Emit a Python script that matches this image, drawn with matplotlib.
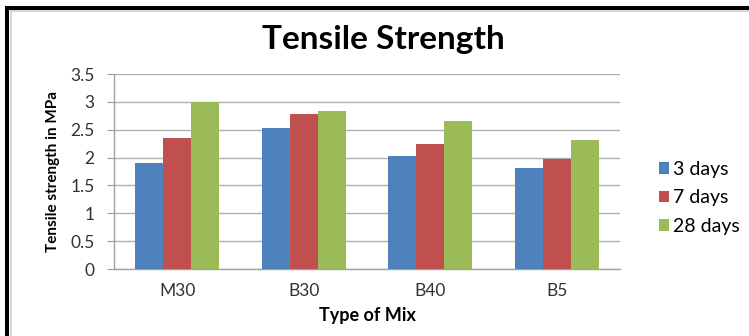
import matplotlib
matplotlib.use('Agg')
import matplotlib.pyplot as plt
import numpy as np
from matplotlib.patches import Rectangle

plt.rcParams['font.family'] = ['Lato', 'DejaVu Sans']

mixes = ['M30', 'B30', 'B40', 'B5']
days_3 = [1.91, 2.53, 2.02, 1.82]
days_7 = [2.36, 2.79, 2.25, 1.98]
days_28 = [3.00, 2.83, 2.65, 2.32]
series = ['3 days', '7 days', '28 days']
colors = ['#4F81BD', '#C0504D', '#9BBB59']

fig = plt.figure(figsize=(7.49, 3.36), dpi=100)
fig.patch.set_facecolor('white')

# frame lines along the top and left edge
fig.patches.append(Rectangle((5 / 749, 0), 4 / 749, 1 - 6 / 336, transform=fig.transFigure,
                             facecolor='black', edgecolor='none'))
fig.patches.append(Rectangle((5 / 749, 1 - 10 / 336), 1, 4 / 336, transform=fig.transFigure,
                             facecolor='black', edgecolor='none'))
fig.patches.append(Rectangle((10 / 749, 0), 2 / 749, 1 - 10 / 336, transform=fig.transFigure,
                             facecolor='#d8d8d8', edgecolor='none'))
fig.patches.append(Rectangle((10 / 749, 1 - 12 / 336), 1, 2 / 336, transform=fig.transFigure,
                             facecolor='#d8d8d8', edgecolor='none'))

ax = fig.add_axes([114 / 749, 1 - 269 / 336, 506 / 749, 195 / 336])

x = np.arange(len(mixes))
w = 0.222
for i, (vals, name) in enumerate(zip([days_3, days_7, days_28], series)):
    ax.bar(x + (i - 1) * w, vals, w, color=colors[i], label=name, zorder=3)

ax.set_xlim(-0.5, len(mixes) - 0.5)
ax.set_ylim(0, 3.5)
ax.set_yticks(np.arange(0, 3.51, 0.5))
ax.set_yticklabels(['0', '0.5', '1', '1.5', '2', '2.5', '3', '3.5'])
ax.set_xticks(x)
ax.set_xticklabels(mixes)
ax.tick_params(axis='y', length=5, color='#a0a0a0', labelsize=12.5, pad=9, labelcolor='#333333')
ax.tick_params(axis='x', length=0, labelsize=12.5, pad=10, labelcolor='#333333')
ax.grid(axis='y', color='#b0b0b0', linewidth=1, zorder=0)
for s in ['top', 'right']:
    ax.spines[s].set_visible(False)
for s in ['left', 'bottom']:
    ax.spines[s].set_color('#a0a0a0')
    ax.spines[s].set_linewidth(1)

ax.set_xlabel('Type of Mix', fontsize=13, fontweight='bold', labelpad=6)
ax.set_ylabel('Tensile strength in MPa', fontsize=11, fontweight='bold', labelpad=7)
fig.text(383 / 749, 1 - 40 / 336, 'Tensile Strength', fontsize=24, fontweight='bold',
         ha='center', va='center')

leg = ax.legend(loc='center left', bbox_to_anchor=(645 / 749, 1 - 198 / 336),
                bbox_transform=fig.transFigure, frameon=False,
                fontsize=14, handlelength=0.55, handleheight=0.55, handletextpad=0.2,
                labelspacing=0.6, borderpad=0.2)

fig.savefig('out.png', dpi=100, facecolor='white')
